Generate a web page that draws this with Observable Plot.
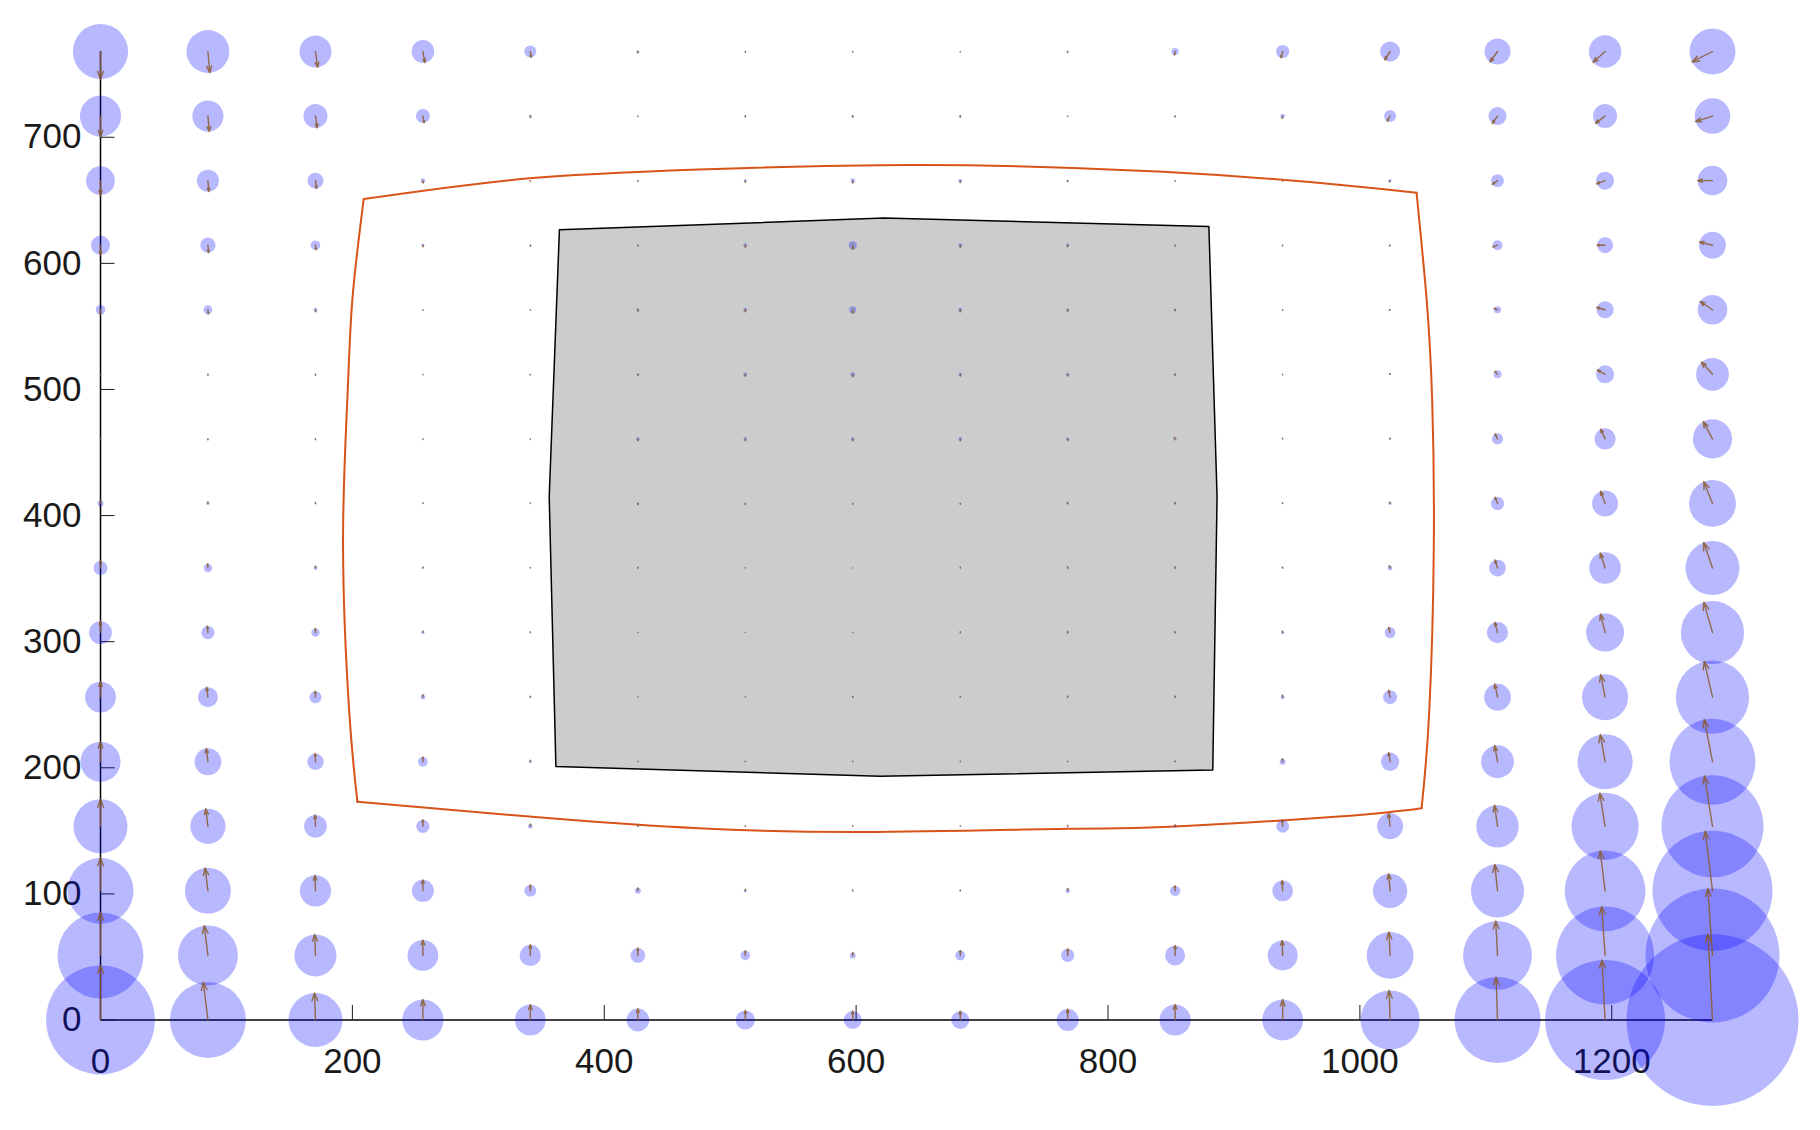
<!DOCTYPE html>
<html><head><meta charset="utf-8">
<script src="https://cdn.jsdelivr.net/npm/d3@7"></script>
<script src="https://cdn.jsdelivr.net/npm/@observablehq/plot@0.6"></script>
<style>html,body{margin:0;padding:0;background:#fff;} #chart svg{display:block}</style>
</head><body><div id="chart"></div>
<script>
// grid of image positions (columns / rows)
const gridX = [0, 85.3, 170.7, 256, 341.3, 426.7, 512, 597.3, 682.7, 768, 853.3, 938.7, 1024, 1109.3, 1194.7, 1280];
const gridY = [0, 51.2, 102.4, 153.6, 204.8, 256, 307.2, 358.4, 409.6, 460.8, 512, 563.2, 614.4, 665.6, 716.8, 768];

// error magnitude per grid point (rows bottom -> top, columns left -> right)
const errMag = [
  [2.72,1.90,1.35,1.03,0.77,0.57,0.48,0.45,0.45,0.55,0.78,1.02,1.48,2.15,3.00,4.30],
  [2.15,1.50,1.05,0.77,0.53,0.37,0.24,0.15,0.25,0.33,0.50,0.75,1.17,1.72,2.45,3.35],
  [1.65,1.15,0.78,0.55,0.30,0.15,0.08,0.05,0.05,0.12,0.26,0.52,0.86,1.33,2.02,3.00],
  [1.35,0.88,0.57,0.33,0.12,0.05,0.03,0.03,0.03,0.05,0.08,0.32,0.65,1.06,1.68,2.55],
  [1.00,0.67,0.41,0.24,0.08,0.03,0.03,0.03,0.03,0.03,0.04,0.15,0.46,0.82,1.38,2.15],
  [0.77,0.50,0.30,0.12,0.05,0.02,0.02,0.04,0.04,0.05,0.05,0.10,0.35,0.67,1.15,1.83],
  [0.57,0.33,0.21,0.08,0.04,0.02,0.01,0.02,0.04,0.06,0.05,0.08,0.27,0.53,0.95,1.58],
  [0.35,0.21,0.10,0.05,0.03,0.04,0.02,0.01,0.04,0.05,0.06,0.05,0.12,0.42,0.79,1.35],
  [0.15,0.08,0.05,0.04,0.03,0.06,0.05,0.04,0.04,0.06,0.06,0.04,0.08,0.33,0.65,1.17],
  [0.03,0.05,0.04,0.03,0.03,0.09,0.09,0.09,0.09,0.08,0.08,0.03,0.05,0.28,0.53,0.98],
  [0.02,0.05,0.05,0.03,0.03,0.06,0.10,0.12,0.09,0.08,0.06,0.03,0.05,0.20,0.45,0.82],
  [0.24,0.22,0.10,0.03,0.03,0.08,0.10,0.18,0.10,0.08,0.06,0.03,0.05,0.18,0.43,0.74],
  [0.48,0.38,0.24,0.08,0.05,0.05,0.10,0.20,0.10,0.08,0.04,0.04,0.05,0.25,0.40,0.67],
  [0.72,0.55,0.40,0.12,0.03,0.04,0.08,0.12,0.10,0.06,0.03,0.03,0.08,0.32,0.45,0.74],
  [1.03,0.78,0.60,0.35,0.08,0.03,0.05,0.06,0.06,0.03,0.05,0.12,0.30,0.45,0.60,0.89],
  [1.38,1.07,0.80,0.57,0.30,0.08,0.04,0.03,0.03,0.05,0.18,0.33,0.50,0.65,0.81,1.15]
];

// error direction per grid point, degrees (0 = +x, 90 = +y)
const errAngle = [
  [90,97,92,90,90,90,90,90,90,90,90,90,92,92,93,93],
  [90,97,92,90,90,90,90,90,90,90,90,92,93,93,94,94],
  [90,97,92,90,90,90,90,90,90,90,92,93,95,96,97,97],
  [90,97,92,90,90,90,90,90,90,90,92,95,97,98,99,99],
  [90,97,92,90,90,90,90,90,90,90,95,98,99,100,100,101],
  [90,97,92,90,90,90,90,90,90,100,100,100,102,102,101,103],
  [90,95,92,90,90,90,90,90,90,100,105,105,105,105,104,106],
  [90,95,90,90,90,90,90,90,90,100,110,110,110,108,108,109],
  [90,95,90,90,90,270,270,270,270,110,115,115,115,112,110,112],
  [90,270,270,270,270,270,270,270,270,270,120,120,118,116,114,118],
  [270,275,275,275,270,270,270,270,270,270,250,240,120,130,150,132],
  [270,275,275,275,270,270,270,270,270,265,255,250,200,160,165,146],
  [270,275,278,278,275,270,270,270,270,265,255,250,230,200,180,166],
  [270,275,278,278,275,270,270,270,270,265,255,255,235,215,200,180],
  [270,275,278,280,278,270,270,270,270,265,255,255,240,235,217,198],
  [270,275,278,280,278,270,270,270,270,265,258,255,237,234,222,207]
];

// outer (orange) boundary, one series per side
const outerSide = ["top","top","top","top","top","top","top",
                   "right","right","right","right","right","right",
                   "bottom","bottom","bottom","bottom","bottom","bottom","bottom","bottom",
                   "left","left","left","left","left","left"];
const outerX = [209,336,475,650,844,983,1045,
                1045,1053,1057.4,1058.7,1055,1049,
                1049,983,844,768,606,475,362,204,
                204,197.6,192.6,196,200,209];
const outerY = [651,667,674.4,678,672.6,662.4,656,
                656,571.5,492,375,243,168,
                168,161.4,153,151.6,149,152,159.5,173,
                173,243,375,492,571.5,651];

// inner (gray) region
const innerX = [364.4,622,880.1,886.6,883.2,619,361.6,356.3];
const innerY = [626.6,635.9,629.3,415,198.3,193.2,201.1,415];

const xTicks = [0,200,400,600,800,1000,1200];
const yTicks = [0,100,200,300,400,500,600,700];

const W = 1820, H = 1130, mL = 100, mR = 108, mT = 51, mB = 110.5;
const pxPerUnit = (W - mL - mR) / 1280;
const errToPx = 20; // screen pixels per unit of error

const points = [];
gridY.forEach((y, j) => gridX.forEach((x, i) => points.push({x, y, err: errMag[j][i], angle: errAngle[j][i]})));
const outer = outerX.map((x, k) => ({x, y: outerY[k], side: outerSide[k]}));
const inner = innerX.map((x, k) => ({x, y: innerY[k]}));

const endX = d => d.x + d.err * errToPx / pxPerUnit * Math.cos(d.angle * Math.PI / 180);
const endY = d => d.y + d.err * errToPx / pxPerUnit * Math.sin(d.angle * Math.PI / 180);

const chart = Plot.plot({
  width: W, height: H,
  marginLeft: mL, marginRight: mR, marginTop: mT, marginBottom: mB,
  x: {domain: [0, 1280]},
  y: {domain: [0, 768]},
  r: {type: "linear", domain: [0, 1], range: [0, errToPx]},
  style: {fontFamily: "'Liberation Sans', Arial, Helvetica, sans-serif", fontSize: "35px", color: "#1a1a1a", background: "white"},
  marks: [
    Plot.line(inner, {x: "x", y: "y", curve: "linear-closed", fill: "#cccccc", stroke: "black", strokeWidth: 1.5}),
    Plot.line(outer, {x: "x", y: "y", z: "side", curve: "natural", stroke: "#D95319", strokeWidth: 2}),
    Plot.ruleX([0], {stroke: "black", strokeWidth: 1.5}),
    Plot.ruleY([0], {stroke: "black", strokeWidth: 1.5}),
    Plot.axisX({ticks: xTicks, tickFormat: d => String(d), tickSize: -14.5, tickPadding: 43, label: null, fontSize: 35}),
    Plot.axisY({ticks: yTicks, tickFormat: d => String(d), tickSize: -14.5, tickPadding: 33.5, label: null, fontSize: 35}),
    Plot.dot(points, {x: "x", y: "y", r: "err", fill: "blue", fillOpacity: 0.28, stroke: null}),
    Plot.arrow(points, {x1: "x", y1: "y", x2: endX, y2: endY, stroke: "#8a5a2b", strokeOpacity: 0.85, strokeWidth: 1.4, headLength: 9, headAngle: 40})
  ]
});
document.getElementById("chart").appendChild(chart);
</script>
</body></html>
